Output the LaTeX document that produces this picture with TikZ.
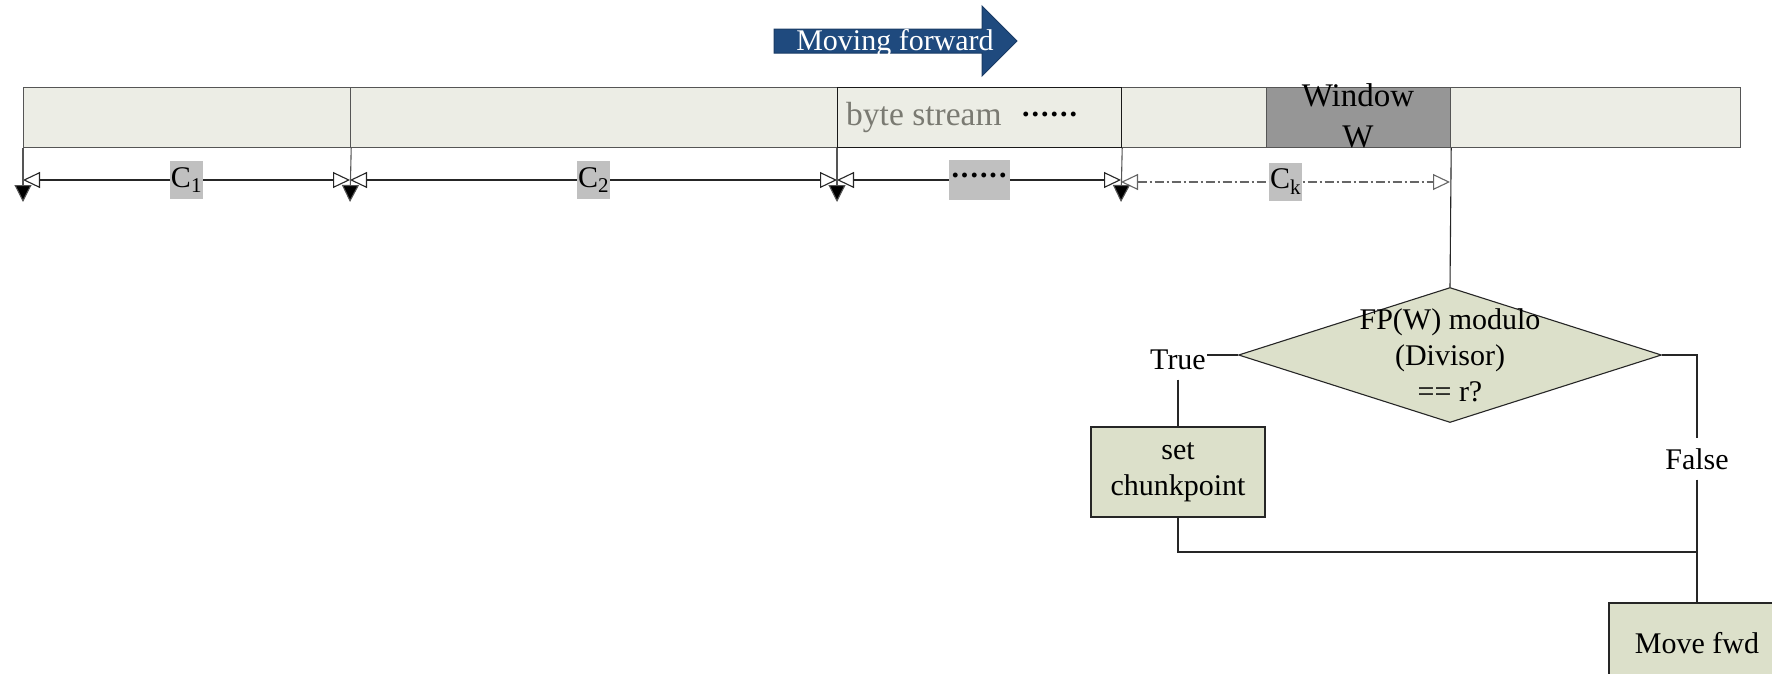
\documentclass[tikz,border=0pt]{standalone}
\usepackage{fontspec}
\setmainfont{Liberation Serif}
\usetikzlibrary{arrows.meta,shapes.geometric}

\definecolor{bandfill}{HTML}{ECEDE5}
\definecolor{flowfill}{HTML}{DCE0CA}
\definecolor{tagfill}{HTML}{C0C0C0}
\definecolor{winfill}{HTML}{969696}
\definecolor{arrowblue}{HTML}{1F4A7E}
\definecolor{linegrey}{HTML}{555555}
\definecolor{streamgrey}{HTML}{7A7A72}

% six centred bold dots, used as an ellipsis
\newcommand\dotrow{\raisebox{9pt}{\textbf{.\kern2pt.\kern2pt.\kern2pt.\kern2pt.\kern2pt.}}}

\begin{document}
\begin{tikzpicture}[x=1pt,y=-1pt,
  txt/.style={font=\fontsize{30}{36}\selectfont},
  cell/.style={draw=linegrey, fill=bandfill, line width=1.2pt, minimum height=60pt,
    inner sep=0pt, anchor=north west},
  tag/.style={fill=tagfill, inner xsep=1pt, inner ysep=0pt, minimum height=38pt, txt},
  dim/.style={line width=1.1pt, draw=black!85,
    {Triangle[fill=white,length=17pt,width=16pt]}-{Triangle[fill=white,length=17pt,width=16pt]}},
  dimck/.style={line width=1.1pt, draw=black!60, dash pattern=on 9pt off 3pt on 2pt off 3pt,
    {Triangle[fill=white,length=17pt,width=16pt]}-{Triangle[fill=white,length=17pt,width=16pt]}},
  drop/.style={line width=1.1pt, draw=linegrey, -{Triangle[length=17pt,width=17pt,fill=black]}},
  flow/.style={draw=black!85, fill=flowfill, line width=1.1pt, txt, align=center, inner sep=0pt},
  link/.style={line width=1.1pt, draw=black!85},
  lbl/.style={txt, inner xsep=1pt, inner ysep=10pt},
]
\useasboundingbox (0,0) rectangle (1772,673);

% direction arrow
\fill[arrowblue, draw=arrowblue!80!black, line width=1pt]
  (774,29) -- (982,29) -- (982,6) -- (1017,41) -- (982,76) -- (982,53) -- (774,53) -- cycle;
\node[txt, text=white, anchor=base, inner sep=0pt] (mvtxt) at (895,50) {Moving forward};

% byte stream band
\node[cell, minimum width=327pt] (c1) at (23,87) {};
\node[cell, minimum width=487pt] (c2) at (350,87) {};
\node[cell, minimum width=619pt] (c4) at (1121,87) {};
\node[cell, minimum width=284pt, draw=black!90] (c3) at (837,87) {};
\node[cell, fill=winfill, minimum width=184pt] (win) at (1266,87) {};

\node[anchor=base west, inner sep=0pt, text=streamgrey, font=\fontsize{33.5}{40}\selectfont]
  (bs) at (846,125) {byte stream};
\node[anchor=base west, inner sep=0pt, txt] (bsdots) at (1022,125) {\dotrow};

\node[anchor=base, inner sep=0pt, font=\fontsize{33}{40}\selectfont] (wintxt1) at (1358,106) {Window};
\node[anchor=base, inner sep=0pt, font=\fontsize{33}{40}\selectfont] (wintxt2) at (1358,147) {W};

% chunk boundaries
\coordinate (m0) at (23,180);
\coordinate (m1) at (350,180);
\coordinate (m2) at (837,180);
\coordinate (m3) at (1121,180);
\coordinate (m3b) at (1121,182);
\coordinate (m4) at (1450,182);
\coordinate (tip0) at (23,202);
\coordinate (tip1) at (350,202);
\coordinate (tip2) at (837,202);
\coordinate (tip3) at (1121,202);

\draw[dim] (m0) -- node[tag] (l1) {C\textsubscript{1}} (m1);
\draw[dim] (m1) -- node[tag] (l2) {C\textsubscript{2}} (m2);
\draw[dim] (m2) -- node[tag, minimum width=61pt, minimum height=40pt] (l3) {\raisebox{-9pt}{\dotrow}} (m3);
\draw[dimck] (m3b) -- node[tag] (lk) {C\textsubscript{k}} (m4);

\draw[drop] (c1.south west) -- (tip0);
\draw[drop] (c1.south east) -- (tip1);
\draw[drop] (c3.south west) -- (tip2);
\draw[drop] (c3.south east) -- (tip3);

% decision flow
\node[diamond, draw=black!85, fill=flowfill, line width=1.1pt, minimum width=423pt,
  minimum height=135pt, inner sep=0pt] (dec) at (1450,355) {};
\node[txt, align=center, inner sep=0pt] (dectxt) at (1450,355) {FP(W) modulo\\(Divisor)\\== r?};
\draw[link] (win.south east) -- (dec.north);

\node[lbl, anchor=base] (truelbl) at (1178,369) {True};
\node[flow, minimum width=174pt, minimum height=90pt] (setcp) at (1178,472) {set\\chunkpoint};
\node[lbl, anchor=base] (falselbl) at (1697,469) {False};
\node[flow, minimum width=176pt, minimum height=80pt] (movefwd) at (1697,643) {Move fwd};

\coordinate (fcorner) at (1697,355);
\coordinate (join) at (1697,552);

\draw[link] (dec.west) -- (dec.west -| truelbl.east);
\draw[link] (truelbl.south) -- (setcp.north);
\draw[link] (dec.east) -- (fcorner) -- (falselbl.north);
\draw[link] (falselbl.south) -- (movefwd.north);
\draw[link] (setcp.south) |- (join);
\end{tikzpicture}
\end{document}
